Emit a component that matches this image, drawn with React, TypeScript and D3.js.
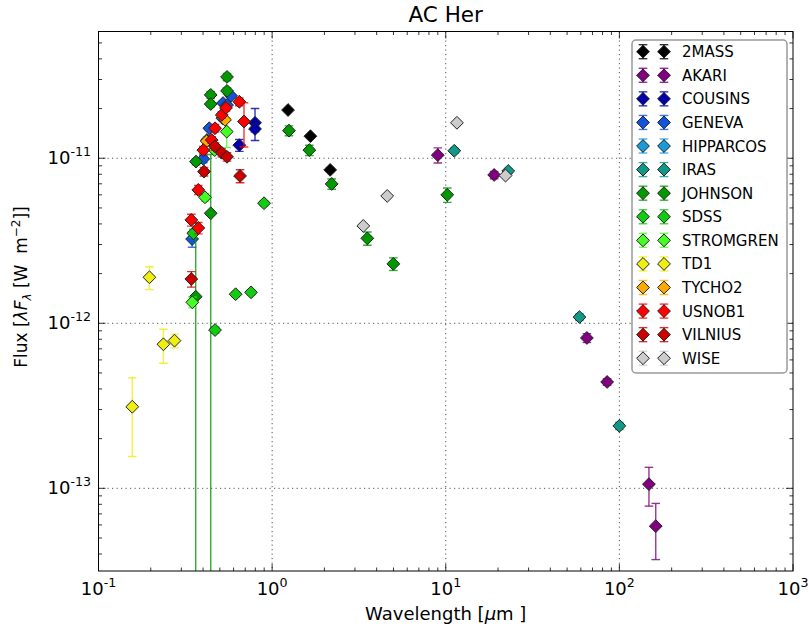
import React from "react";
import * as d3 from "d3";

const W = 809;
const H = 636;
const PL = 98.5, PR = 793, PT = 31.5, PB = 571;
const FONT = "DejaVu Sans, Verdana, sans-serif";

const seriesNames = ["2MASS", "AKARI", "COUSINS", "GENEVA", "HIPPARCOS", "IRAS", "JOHNSON", "SDSS", "STROMGREN", "TD1", "TYCHO2", "USNOB1", "VILNIUS", "WISE"];
const seriesColors = ["#000000", "#800080", "#0000aa", "#1155dd", "#1a9ad8", "#119988", "#009900", "#11cc11", "#44ff22", "#eeee11", "#ffaa00", "#ff0000", "#cc0000", "#cccccc"];

const waveMASS = [1.235, 1.662, 2.159];
const fluxMASS = [1.96e-11, 1.36e-11, 8.5e-12];
const errMASS = [3e-13, 2.5e-13, 2e-13];

const waveAKARI = [9.0, 19.0, 65, 85, 148, 162];
const fluxAKARI = [1.045e-11, 7.92e-12, 8.15e-13, 4.41e-13, 1.06e-13, 5.9e-14];
const errAKARI = [1.1e-12, 4e-13, 5e-14, 2e-14, 2.8e-14, 2.2e-14];

const waveCOUSINS = [0.647, 0.797, 0.797];
const fluxCOUSINS = [1.2e-11, 1.64e-11, 1.505e-11];
const errCOUSINS = [1.0e-12, 3.6e-12, 6e-13];

const waveGENEVA = [0.346, 0.4015, 0.4217, 0.4347, 0.5215, 0.55, 0.58];
const fluxGENEVA = [3.24e-12, 9.9e-12, 1.29e-11, 1.52e-11, 2.16e-11, 2.1e-11, 2.39e-11];
const errGENEVA = [3.5e-13, 5e-13, 5e-13, 5e-13, 6e-13, 6e-13, 6e-13];

const waveHIPPARCOS = [0.517];
const fluxHIPPARCOS = [1.75e-11];
const errHIPPARCOS = [5e-13];

const waveIRAS = [11.2, 22.9, 58.9, 100];
const fluxIRAS = [1.11e-11, 8.37e-12, 1.09e-12, 2.39e-13];
const errIRAS = [4e-13, 3e-13, 5e-14, 1.2e-14];

const waveJOHNSON = [0.3645, 0.363, 0.4429, 0.4429, 0.4429, 0.5498, 0.5498, 1.25, 1.638, 2.203, 3.535, 4.99, 10.2];
const fluxJOHNSON = [9.54e-12, 1.45e-12, 2.42e-11, 2.13e-11, 4.64e-12, 3.11e-11, 2.56e-11, 1.47e-11, 1.12e-11, 6.99e-12, 3.27e-12, 2.29e-12, 6.0e-12];
const errJOHNSON = [4e-13, 2.6e-12, 1.2e-12, 8e-13, 5.9e-12, 1.6e-12, 1.1e-12, 1.0e-12, 8e-13, 5e-13, 3e-13, 2e-13, 6e-13];

const waveSDSS = [0.3517, 0.469, 0.6162, 0.7559, 0.8982];
const fluxSDSS = [3.51e-12, 9.1e-13, 1.5e-12, 1.54e-12, 5.34e-12];
const errSDSS = [2e-13, 4e-14, 5e-14, 5e-14, 2e-13];

const waveSTROMGREN = [0.347, 0.4106, 0.467, 0.5476];
const fluxSTROMGREN = [1.34e-12, 5.8e-12, 1.12e-11, 1.45e-11];
const errSTROMGREN = [1e-13, 3e-13, 5e-13, 2.9e-12];

const waveTD1 = [0.1565, 0.1965, 0.2365, 0.274];
const fluxTD1 = [3.12e-13, 1.9e-12, 7.46e-13, 7.85e-13];
const errTD1 = [1.56e-13, 3.0e-13, 1.74e-13, 7.5e-14];

const waveTYCHO2 = [0.42, 0.5355];
const fluxTYCHO2 = [1.27e-11, 1.71e-11];
const errTYCHO2 = [6e-13, 6e-13];

const waveUSNOB1 = [0.3424, 0.3757, 0.3757, 0.4015, 0.4488, 0.469, 0.5126, 0.5426, 0.6474, 0.6887];
const fluxUSNOB1 = [4.23e-12, 3.78e-12, 6.43e-12, 1.12e-11, 1.29e-11, 1.52e-11, 1.83e-11, 2.02e-11, 2.2e-11, 1.67e-11];
const errUSNOB1 = [3.5e-13, 3e-13, 4e-13, 6e-13, 6e-13, 8e-13, 8e-13, 9e-13, 1.2e-12, 5e-12];

const waveVILNIUS = [0.3424, 0.4052, 0.469, 0.5126, 0.5498, 0.6535];
const fluxVILNIUS = [1.855e-12, 8.3e-12, 1.18e-11, 1.08e-11, 1.02e-11, 7.81e-12];
const errVILNIUS = [2e-13, 5e-13, 6e-13, 6e-13, 6e-13, 7e-13];

const waveWISE = [3.35, 4.6, 11.6, 22.1];
const fluxWISE = [3.89e-12, 5.91e-12, 1.64e-11, 7.85e-12];
const errWISE = [8e-14, 1e-13, 2e-13, 1.5e-13];

const allWaves = [waveMASS, waveAKARI, waveCOUSINS, waveGENEVA, waveHIPPARCOS, waveIRAS, waveJOHNSON, waveSDSS, waveSTROMGREN, waveTD1, waveTYCHO2, waveUSNOB1, waveVILNIUS, waveWISE];
const allFluxes = [fluxMASS, fluxAKARI, fluxCOUSINS, fluxGENEVA, fluxHIPPARCOS, fluxIRAS, fluxJOHNSON, fluxSDSS, fluxSTROMGREN, fluxTD1, fluxTYCHO2, fluxUSNOB1, fluxVILNIUS, fluxWISE];
const allErrs = [errMASS, errAKARI, errCOUSINS, errGENEVA, errHIPPARCOS, errIRAS, errJOHNSON, errSDSS, errSTROMGREN, errTD1, errTYCHO2, errUSNOB1, errVILNIUS, errWISE];

const xTickExps = [-1, 0, 1, 2, 3];
const yTickExps = [-11, -12, -13];

const x = d3.scaleLog().domain([0.1, 1000]).range([PL, PR]);
const y = d3.scaleLog().domain([Math.pow(10, -13.501), Math.pow(10, -10.232)]).range([PB, PT]);

const R = 6.4;
const diamond = `M0,${-R}L${R},0L0,${R}L${-R},0Z`;
const CAP = 4.3;
const ERR_OP = 0.8;
const ERR_W = 1.4;

function ErrorBar({ cx, vTop, vBot, color }: any) {
  const yt = y(vTop);
  const yb = vBot > 0 ? y(vBot) : PB + 20;
  return (
    <g stroke={color} strokeOpacity={ERR_OP} strokeWidth={ERR_W}>
      <line x1={cx} x2={cx} y1={yt} y2={yb} />
      <line x1={cx - CAP} x2={cx + CAP} y1={yt} y2={yt} />
      {vBot > 0 && <line x1={cx - CAP} x2={cx + CAP} y1={yb} y2={yb} />}
    </g>
  );
}

export default function App() {
  const xMinor: number[] = [];
  for (let n = -1; n < 3; n++) for (let k = 2; k <= 9; k++) xMinor.push(k * Math.pow(10, n));
  const yMinor: number[] = [];
  const [yd0, yd1] = y.domain();
  for (let n = -14; n < -10; n++) for (let k = 2; k <= 9; k++) {
    const v = k * Math.pow(10, n);
    if (v > yd0 && v < yd1) yMinor.push(v);
  }

  const legendTop = 51.7;
  const legendStep = 23.58;

  return (
    <svg width={W} height={H} style={{ position: "absolute", left: 0, top: 0, display: "block", background: "#fff" }} fontFamily={FONT}>
      <defs>
        <clipPath id="plotclip">
          <rect x={PL} y={PT} width={PR - PL} height={PB - PT} />
        </clipPath>
      </defs>
      <rect x={0} y={0} width={W} height={H} fill="#fff" />
      {/* grid */}
      <g stroke="#555" strokeWidth={1} strokeDasharray="1.2,3.3">
        {xTickExps.slice(1, -1).map((e) => (
          <line key={"gx" + e} x1={x(Math.pow(10, e))} x2={x(Math.pow(10, e))} y1={PT} y2={PB} />
        ))}
        {yTickExps.map((e) => (
          <line key={"gy" + e} x1={PL} x2={PR} y1={y(Math.pow(10, e))} y2={y(Math.pow(10, e))} />
        ))}
      </g>
      {/* data */}
      <g clipPath="url(#plotclip)">
        {seriesNames.map((name, si) => (
          <g key={name}>
            {allWaves[si].map((w, i) => (
              <ErrorBar key={"e" + i} cx={x(w)} vTop={allFluxes[si][i] + allErrs[si][i]} vBot={allFluxes[si][i] - allErrs[si][i]} color={seriesColors[si]} />
            ))}
            {allWaves[si].map((w, i) => (
              <path key={"m" + i} d={diamond} transform={`translate(${x(w)},${y(allFluxes[si][i])})`} fill={seriesColors[si]} stroke="#222" strokeWidth={1} />
            ))}
          </g>
        ))}
      </g>
      {/* ticks */}
      <g stroke="#000" strokeWidth={0.8}>
        {xTickExps.map((e) => {
          const px = x(Math.pow(10, e));
          return (
            <g key={"tx" + e}>
              <line x1={px} x2={px} y1={PB} y2={PB - 7} />
              <line x1={px} x2={px} y1={PT} y2={PT + 7} />
            </g>
          );
        })}
        {xMinor.map((v, i) => {
          const px = x(v);
          return (
            <g key={"mx" + i}>
              <line x1={px} x2={px} y1={PB} y2={PB - 3.5} />
              <line x1={px} x2={px} y1={PT} y2={PT + 3.5} />
            </g>
          );
        })}
        {yTickExps.map((e) => {
          const py = y(Math.pow(10, e));
          return (
            <g key={"ty" + e}>
              <line x1={PL} x2={PL + 7} y1={py} y2={py} />
              <line x1={PR} x2={PR - 7} y1={py} y2={py} />
            </g>
          );
        })}
        {yMinor.map((v, i) => {
          const py = y(v);
          return (
            <g key={"my" + i}>
              <line x1={PL} x2={PL + 3.5} y1={py} y2={py} />
              <line x1={PR} x2={PR - 3.5} y1={py} y2={py} />
            </g>
          );
        })}
      </g>
      <rect x={PL} y={PT} width={PR - PL} height={PB - PT} fill="none" stroke="#000" strokeWidth={1} />
      {/* tick labels */}
      <g fontSize={18} fill="#000">
        {xTickExps.map((e) => (
          <text key={"lx" + e} x={x(Math.pow(10, e))} y={595} textAnchor="middle">
            10<tspan dy={-8.5} fontSize={12.6}>{String(e)}</tspan>
          </text>
        ))}
        {yTickExps.map((e) => (
          <text key={"ly" + e} x={91} y={y(Math.pow(10, e)) + 6} textAnchor="end">
            10<tspan dy={-8.5} fontSize={12.6}>{String(e)}</tspan>
          </text>
        ))}
      </g>
      {/* axis labels */}
      <text x={(PL + PR) / 2} y={620} textAnchor="middle" fontSize={18}>
        Wavelength [<tspan fontStyle="italic">μ</tspan>m ]
      </text>
      <text transform={`translate(27,287) rotate(-90)`} textAnchor="middle" fontSize={17}>
        Flux [<tspan fontStyle="italic">λF</tspan>
        <tspan dy={4} fontSize={12} fontStyle="italic">λ</tspan>
        <tspan dy={-4}>{" [W\u00a0\u00a0m"}</tspan>
        <tspan dy={-7} fontSize={12}>−2</tspan>
        <tspan dy={7}>]]</tspan>
      </text>
      <text x={(PL + PR) / 2} y={22} textAnchor="middle" fontSize={21.5}>AC Her</text>
      {/* legend */}
      <rect x={632} y={40} width={155} height={333} rx={4} fill="#fff" stroke="#999" strokeWidth={1.5} />
      {seriesNames.map((name, si) => {
        const ly = legendTop + si * legendStep;
        return (
          <g key={"leg" + name}>
            {[643, 664].map((lx) => (
              <g key={lx}>
                <g stroke={seriesColors[si]} strokeOpacity={ERR_OP} strokeWidth={ERR_W}>
                  <line x1={lx} x2={lx} y1={ly - 7} y2={ly + 7} />
                  <line x1={lx - CAP} x2={lx + CAP} y1={ly - 7} y2={ly - 7} />
                  <line x1={lx - CAP} x2={lx + CAP} y1={ly + 7} y2={ly + 7} />
                </g>
                <path d={diamond} transform={`translate(${lx},${ly})`} fill={seriesColors[si]} stroke="#222" strokeWidth={1} />
              </g>
            ))}
            <text x={682} y={ly + 5.5} fontSize={15} fill="#000">{name}</text>
          </g>
        );
      })}
    </svg>
  );
}
